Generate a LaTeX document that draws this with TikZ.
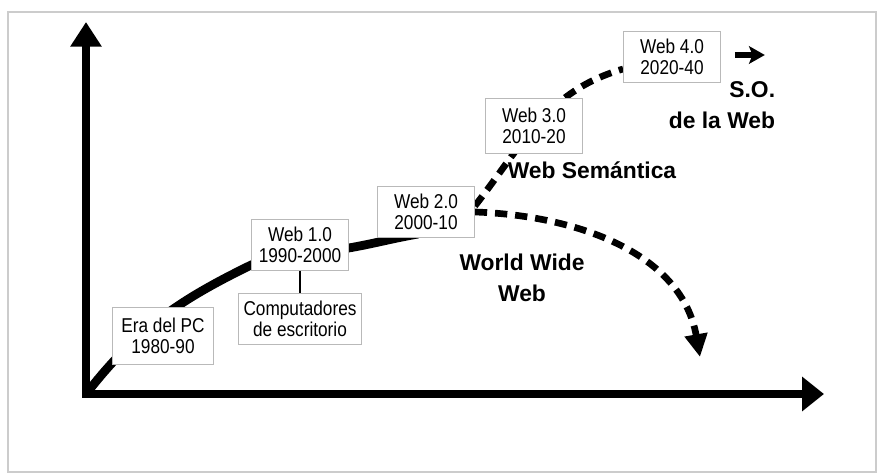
\documentclass[tikz,border=0pt]{standalone}
\usepackage{fontspec}
\setmainfont{Liberation Sans}
\newfontfamily\narrowfont[FakeStretch=0.86]{Liberation Sans}
\usetikzlibrary{arrows.meta,positioning,calc,backgrounds}
\tikzset{
  era/.style={draw=gray!55,fill=white,line width=0.6pt,align=center,
    font=\narrowfont\fontsize{11.4}{12}\selectfont,inner xsep=3pt,inner ysep=3pt,
    minimum width=55pt,minimum height=29pt},
  tag/.style={font=\fontsize{13}{18}\bfseries\selectfont},
  trend/.style={line width=5pt},
  guess/.style={line width=3.8pt,dash pattern=on 7pt off 4.5pt},
}

\begin{document}
\begin{tikzpicture}[x=0.02cm,y=0.02cm]
\useasboundingbox (0,0) rectangle (877,-475);
\draw[gray!40,line width=1pt] (8,-12) rectangle (876,-472);

% axes
\coordinate (O) at (86,-394);
\coordinate (ytop) at (86,-22);
\coordinate (xend) at (824,-394);
\draw[line width=4.3pt,line join=miter,
  {Triangle[length=14pt,width=17pt]}-{Triangle[length=12.5pt,width=19pt]}]
  (ytop) -- (O) -- (xend);

% stages
\node[era,minimum width=58pt,minimum height=32pt] (pc) at (163,-336) {Era del PC\\1980-90};
\node[era] (w1) at (300,-245) {Web 1.0\\1990-2000};
\node[era,below=0.44cm of w1] (pcs) {Computadores\\de escritorio};
\node[era] (w2) at (426,-212) {Web 2.0\\2000-10};
\node[era,minimum height=31pt] (w3) at (534,-126) {Web 3.0\\2010-20};
\node[era] (w4) at (672,-57) {Web 4.0\\2020-40};

\node[tag] (sem) at (592,-170) {Web Semántica};
\node[tag,align=right] (so) at (722,-105) {S.O.\\de la Web};
\node[tag,align=center] (www) at (522,-278) {World Wide\\Web};

\draw[line width=1.4pt] (w1) -- (pcs);

\coordinate (so1) at ($(w4.east)+(14,2)$);
\coordinate (so2) at ($(w4.east)+(44,2)$);
\draw[line width=3pt,-{Stealth[length=9pt,width=10pt,inset=2pt]}] (so1) -- (so2);

\begin{scope}[on background layer]
\draw[trend] (O) to[out=52,in=206] ($(w1.west)+(0,-20)$)
  to[out=20,in=190] ($(w1.east)+(0,-3)$)
  to[out=10,in=190] ($(w2.south)+(-8,4)$);
\draw[guess] ($(w2.east)+(0,6)$) to[out=52,in=196] ($(w4.west)+(0,-12)$);
\coordinate (fall) at (700,-357);
\draw[guess,-{Triangle[length=13pt,width=12.5pt]}] (w2.east) to[out=-2,in=100] (fall);
\end{scope}
\end{tikzpicture}
\end{document}
